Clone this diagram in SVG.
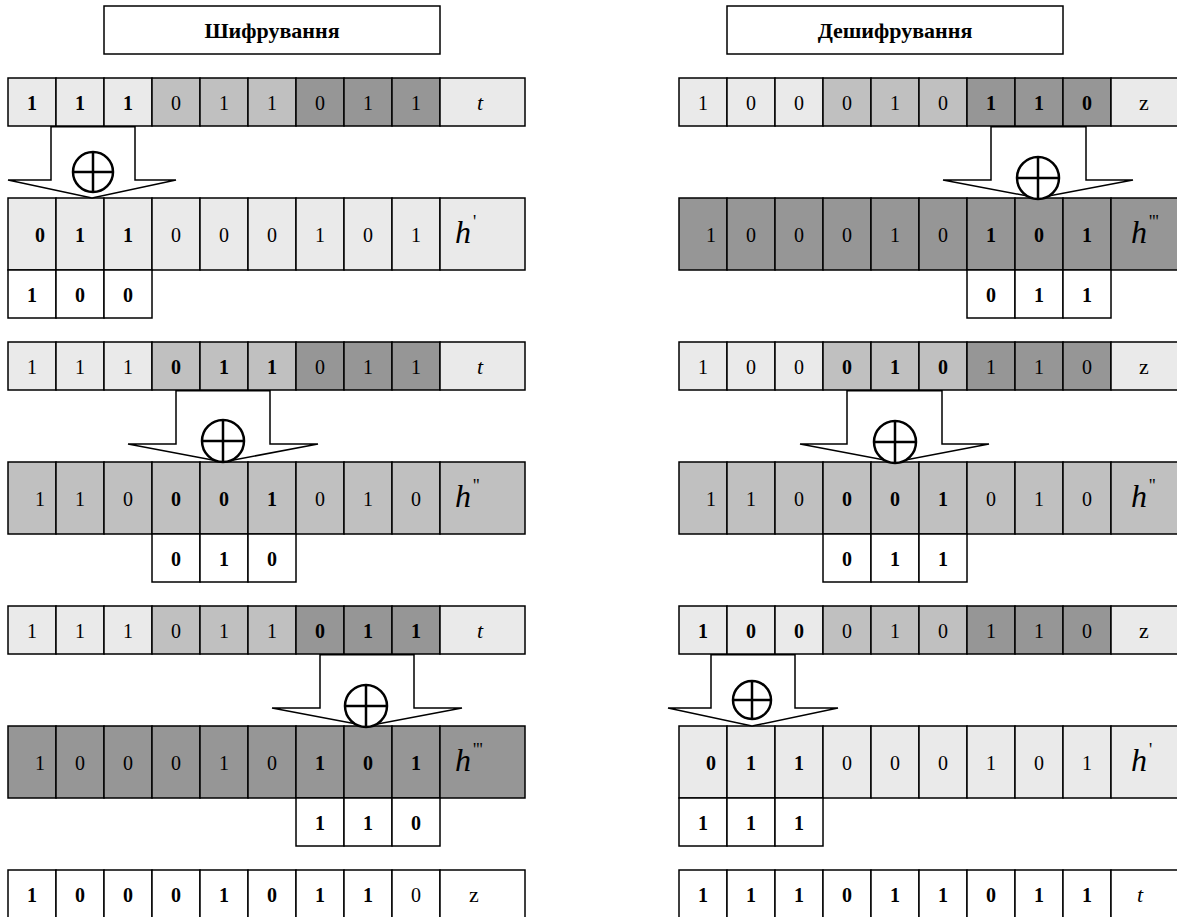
<svg xmlns="http://www.w3.org/2000/svg" width="1177" height="917" viewBox="0 0 1177 917">
<style>
rect{stroke:#000;stroke-width:1.5}
.l{fill:#eaeaea}.m{fill:#c0c0c0}.d{fill:#969696}.w{fill:#fff}
text{font-family:"Liberation Serif","Times New Roman",serif;font-size:20px;fill:#000;text-anchor:middle}
.b{font-weight:bold}
.i{font-style:italic;font-size:22px}
.z{font-size:22px}
.h{font-style:italic;font-size:32px;text-anchor:start}
.p{font-style:normal;font-size:18px}
.t{font-weight:bold;font-size:22px}
.arrow{fill:#fff;stroke:#000;stroke-width:1.5;stroke-linejoin:miter}
.xor{fill:#fff;stroke:#000;stroke-width:2.5}
.xl{stroke:#000;stroke-width:2.5}
</style>

<g id="title-enc"><rect class="w" x="104" y="6" width="336" height="48"/><text class="t" x="272" y="38">Шифрування</text></g>
<g id="title-dec"><rect class="w" x="727" y="6" width="336" height="48"/><text class="t" x="895" y="38">Дешифрування</text></g>

<!-- LEFT -->
<g id="L-A1">
<rect class="l" x="8" y="78" width="48" height="48"/><rect class="l" x="56" y="78" width="48" height="48"/><rect class="l" x="104" y="78" width="48" height="48"/>
<rect class="m" x="152" y="78" width="48" height="48"/><rect class="m" x="200" y="78" width="48" height="48"/><rect class="m" x="248" y="78" width="48" height="48"/>
<rect class="d" x="296" y="78" width="48" height="48"/><rect class="d" x="344" y="78" width="48" height="48"/><rect class="d" x="392" y="78" width="48" height="48"/>
<rect class="l" x="440" y="78" width="85" height="48"/>
<text class="b" x="32" y="110">1</text><text class="b" x="80" y="110">1</text><text class="b" x="128" y="110">1</text>
<text x="176" y="110">0</text><text x="224" y="110">1</text><text x="272" y="110">1</text>
<text x="320" y="110">0</text><text x="368" y="110">1</text><text x="416" y="110">1</text>
<text class="i" x="480" y="110">t</text>
</g>
<g id="L-B1">
<rect class="l" x="8" y="198" width="48" height="72"/><rect class="l" x="56" y="198" width="48" height="72"/><rect class="l" x="104" y="198" width="48" height="72"/>
<rect class="l" x="152" y="198" width="48" height="72"/><rect class="l" x="200" y="198" width="48" height="72"/><rect class="l" x="248" y="198" width="48" height="72"/>
<rect class="l" x="296" y="198" width="48" height="72"/><rect class="l" x="344" y="198" width="48" height="72"/><rect class="l" x="392" y="198" width="48" height="72"/>
<rect class="l" x="440" y="198" width="85" height="72"/>
<text class="b" x="40" y="242">0</text><text class="b" x="80" y="242">1</text><text class="b" x="128" y="242">1</text>
<text x="176" y="242">0</text><text x="224" y="242">0</text><text x="272" y="242">0</text>
<text x="320" y="242">1</text><text x="368" y="242">0</text><text x="416" y="242">1</text>
<text class="h" x="455" y="243">h<tspan class="p" dx="2" dy="-15">'</tspan></text>
</g>
<g id="L-S1">
<rect class="w" x="8" y="270" width="48" height="48"/><rect class="w" x="56" y="270" width="48" height="48"/><rect class="w" x="104" y="270" width="48" height="48"/>
<text class="b" x="32" y="302">1</text><text class="b" x="80" y="302">0</text><text class="b" x="128" y="302">0</text>
</g>

<g id="L-A2">
<rect class="l" x="8" y="342" width="48" height="48"/><rect class="l" x="56" y="342" width="48" height="48"/><rect class="l" x="104" y="342" width="48" height="48"/>
<rect class="m" x="152" y="342" width="48" height="48"/><rect class="m" x="200" y="342" width="48" height="48"/><rect class="m" x="248" y="342" width="48" height="48"/>
<rect class="d" x="296" y="342" width="48" height="48"/><rect class="d" x="344" y="342" width="48" height="48"/><rect class="d" x="392" y="342" width="48" height="48"/>
<rect class="l" x="440" y="342" width="85" height="48"/>
<text x="32" y="374">1</text><text x="80" y="374">1</text><text x="128" y="374">1</text>
<text class="b" x="176" y="374">0</text><text class="b" x="224" y="374">1</text><text class="b" x="272" y="374">1</text>
<text x="320" y="374">0</text><text x="368" y="374">1</text><text x="416" y="374">1</text>
<text class="i" x="480" y="374">t</text>
</g>
<g id="L-B2">
<rect class="m" x="8" y="462" width="48" height="72"/><rect class="m" x="56" y="462" width="48" height="72"/><rect class="m" x="104" y="462" width="48" height="72"/>
<rect class="m" x="152" y="462" width="48" height="72"/><rect class="m" x="200" y="462" width="48" height="72"/><rect class="m" x="248" y="462" width="48" height="72"/>
<rect class="m" x="296" y="462" width="48" height="72"/><rect class="m" x="344" y="462" width="48" height="72"/><rect class="m" x="392" y="462" width="48" height="72"/>
<rect class="m" x="440" y="462" width="85" height="72"/>
<text x="40" y="506">1</text><text x="80" y="506">1</text><text x="128" y="506">0</text>
<text class="b" x="176" y="506">0</text><text class="b" x="224" y="506">0</text><text class="b" x="272" y="506">1</text>
<text x="320" y="506">0</text><text x="368" y="506">1</text><text x="416" y="506">0</text>
<text class="h" x="455" y="507">h<tspan class="p" dx="2" dy="-15">''</tspan></text>
</g>
<g id="L-S2">
<rect class="w" x="152" y="534" width="48" height="48"/><rect class="w" x="200" y="534" width="48" height="48"/><rect class="w" x="248" y="534" width="48" height="48"/>
<text class="b" x="176" y="566">0</text><text class="b" x="224" y="566">1</text><text class="b" x="272" y="566">0</text>
</g>

<g id="L-A3">
<rect class="l" x="8" y="606" width="48" height="48"/><rect class="l" x="56" y="606" width="48" height="48"/><rect class="l" x="104" y="606" width="48" height="48"/>
<rect class="m" x="152" y="606" width="48" height="48"/><rect class="m" x="200" y="606" width="48" height="48"/><rect class="m" x="248" y="606" width="48" height="48"/>
<rect class="d" x="296" y="606" width="48" height="48"/><rect class="d" x="344" y="606" width="48" height="48"/><rect class="d" x="392" y="606" width="48" height="48"/>
<rect class="l" x="440" y="606" width="85" height="48"/>
<text x="32" y="638">1</text><text x="80" y="638">1</text><text x="128" y="638">1</text>
<text x="176" y="638">0</text><text x="224" y="638">1</text><text x="272" y="638">1</text>
<text class="b" x="320" y="638">0</text><text class="b" x="368" y="638">1</text><text class="b" x="416" y="638">1</text>
<text class="i" x="480" y="638">t</text>
</g>
<g id="L-B3">
<rect class="d" x="8" y="726" width="48" height="72"/><rect class="d" x="56" y="726" width="48" height="72"/><rect class="d" x="104" y="726" width="48" height="72"/>
<rect class="d" x="152" y="726" width="48" height="72"/><rect class="d" x="200" y="726" width="48" height="72"/><rect class="d" x="248" y="726" width="48" height="72"/>
<rect class="d" x="296" y="726" width="48" height="72"/><rect class="d" x="344" y="726" width="48" height="72"/><rect class="d" x="392" y="726" width="48" height="72"/>
<rect class="d" x="440" y="726" width="85" height="72"/>
<text x="40" y="770">1</text><text x="80" y="770">0</text><text x="128" y="770">0</text>
<text x="176" y="770">0</text><text x="224" y="770">1</text><text x="272" y="770">0</text>
<text class="b" x="320" y="770">1</text><text class="b" x="368" y="770">0</text><text class="b" x="416" y="770">1</text>
<text class="h" x="455" y="771">h<tspan class="p" dx="2" dy="-15">'''</tspan></text>
</g>
<g id="L-S3">
<rect class="w" x="296" y="798" width="48" height="48"/><rect class="w" x="344" y="798" width="48" height="48"/><rect class="w" x="392" y="798" width="48" height="48"/>
<text class="b" x="320" y="830">1</text><text class="b" x="368" y="830">1</text><text class="b" x="416" y="830">0</text>
</g>
<g id="L-F">
<rect class="w" x="8" y="870" width="48" height="52"/><rect class="w" x="56" y="870" width="48" height="52"/><rect class="w" x="104" y="870" width="48" height="52"/>
<rect class="w" x="152" y="870" width="48" height="52"/><rect class="w" x="200" y="870" width="48" height="52"/><rect class="w" x="248" y="870" width="48" height="52"/>
<rect class="w" x="296" y="870" width="48" height="52"/><rect class="w" x="344" y="870" width="48" height="52"/><rect class="w" x="392" y="870" width="48" height="52"/>
<rect class="w" x="440" y="870" width="85" height="52"/>
<text class="b" x="32" y="902">1</text><text class="b" x="80" y="902">0</text><text class="b" x="128" y="902">0</text>
<text class="b" x="176" y="902">0</text><text class="b" x="224" y="902">1</text><text class="b" x="272" y="902">0</text>
<text class="b" x="320" y="902">1</text><text class="b" x="368" y="902">1</text><text x="416" y="902">0</text>
<text class="z" x="474" y="902">z</text>
</g>

<!-- RIGHT -->
<g id="R-A1">
<rect class="l" x="679" y="78" width="48" height="48"/><rect class="l" x="727" y="78" width="48" height="48"/><rect class="l" x="775" y="78" width="48" height="48"/>
<rect class="m" x="823" y="78" width="48" height="48"/><rect class="m" x="871" y="78" width="48" height="48"/><rect class="m" x="919" y="78" width="48" height="48"/>
<rect class="d" x="967" y="78" width="48" height="48"/><rect class="d" x="1015" y="78" width="48" height="48"/><rect class="d" x="1063" y="78" width="48" height="48"/>
<rect class="l" x="1111" y="78" width="85" height="48"/>
<text x="703" y="110">1</text><text x="751" y="110">0</text><text x="799" y="110">0</text>
<text x="847" y="110">0</text><text x="895" y="110">1</text><text x="943" y="110">0</text>
<text class="b" x="991" y="110">1</text><text class="b" x="1039" y="110">1</text><text class="b" x="1087" y="110">0</text>
<text class="z" x="1144" y="110">z</text>
</g>
<g id="R-B1">
<rect class="d" x="679" y="198" width="48" height="72"/><rect class="d" x="727" y="198" width="48" height="72"/><rect class="d" x="775" y="198" width="48" height="72"/>
<rect class="d" x="823" y="198" width="48" height="72"/><rect class="d" x="871" y="198" width="48" height="72"/><rect class="d" x="919" y="198" width="48" height="72"/>
<rect class="d" x="967" y="198" width="48" height="72"/><rect class="d" x="1015" y="198" width="48" height="72"/><rect class="d" x="1063" y="198" width="48" height="72"/>
<rect class="d" x="1111" y="198" width="85" height="72"/>
<text x="711" y="242">1</text><text x="751" y="242">0</text><text x="799" y="242">0</text>
<text x="847" y="242">0</text><text x="895" y="242">1</text><text x="943" y="242">0</text>
<text class="b" x="991" y="242">1</text><text class="b" x="1039" y="242">0</text><text class="b" x="1087" y="242">1</text>
<text class="h" x="1131" y="243">h<tspan class="p" dx="2" dy="-15">'''</tspan></text>
</g>
<g id="R-S1">
<rect class="w" x="967" y="270" width="48" height="48"/><rect class="w" x="1015" y="270" width="48" height="48"/><rect class="w" x="1063" y="270" width="48" height="48"/>
<text class="b" x="991" y="302">0</text><text class="b" x="1039" y="302">1</text><text class="b" x="1087" y="302">1</text>
</g>

<g id="R-A2">
<rect class="l" x="679" y="342" width="48" height="48"/><rect class="l" x="727" y="342" width="48" height="48"/><rect class="l" x="775" y="342" width="48" height="48"/>
<rect class="m" x="823" y="342" width="48" height="48"/><rect class="m" x="871" y="342" width="48" height="48"/><rect class="m" x="919" y="342" width="48" height="48"/>
<rect class="d" x="967" y="342" width="48" height="48"/><rect class="d" x="1015" y="342" width="48" height="48"/><rect class="d" x="1063" y="342" width="48" height="48"/>
<rect class="l" x="1111" y="342" width="85" height="48"/>
<text x="703" y="374">1</text><text x="751" y="374">0</text><text x="799" y="374">0</text>
<text class="b" x="847" y="374">0</text><text class="b" x="895" y="374">1</text><text class="b" x="943" y="374">0</text>
<text x="991" y="374">1</text><text x="1039" y="374">1</text><text x="1087" y="374">0</text>
<text class="z" x="1144" y="374">z</text>
</g>
<g id="R-B2">
<rect class="m" x="679" y="462" width="48" height="72"/><rect class="m" x="727" y="462" width="48" height="72"/><rect class="m" x="775" y="462" width="48" height="72"/>
<rect class="m" x="823" y="462" width="48" height="72"/><rect class="m" x="871" y="462" width="48" height="72"/><rect class="m" x="919" y="462" width="48" height="72"/>
<rect class="m" x="967" y="462" width="48" height="72"/><rect class="m" x="1015" y="462" width="48" height="72"/><rect class="m" x="1063" y="462" width="48" height="72"/>
<rect class="m" x="1111" y="462" width="85" height="72"/>
<text x="711" y="506">1</text><text x="751" y="506">1</text><text x="799" y="506">0</text>
<text class="b" x="847" y="506">0</text><text class="b" x="895" y="506">0</text><text class="b" x="943" y="506">1</text>
<text x="991" y="506">0</text><text x="1039" y="506">1</text><text x="1087" y="506">0</text>
<text class="h" x="1131" y="507">h<tspan class="p" dx="2" dy="-15">''</tspan></text>
</g>
<g id="R-S2">
<rect class="w" x="823" y="534" width="48" height="48"/><rect class="w" x="871" y="534" width="48" height="48"/><rect class="w" x="919" y="534" width="48" height="48"/>
<text class="b" x="847" y="566">0</text><text class="b" x="895" y="566">1</text><text class="b" x="943" y="566">1</text>
</g>

<g id="R-A3">
<rect class="l" x="679" y="606" width="48" height="48"/><rect class="l" x="727" y="606" width="48" height="48"/><rect class="l" x="775" y="606" width="48" height="48"/>
<rect class="m" x="823" y="606" width="48" height="48"/><rect class="m" x="871" y="606" width="48" height="48"/><rect class="m" x="919" y="606" width="48" height="48"/>
<rect class="d" x="967" y="606" width="48" height="48"/><rect class="d" x="1015" y="606" width="48" height="48"/><rect class="d" x="1063" y="606" width="48" height="48"/>
<rect class="l" x="1111" y="606" width="85" height="48"/>
<text class="b" x="703" y="638">1</text><text class="b" x="751" y="638">0</text><text class="b" x="799" y="638">0</text>
<text x="847" y="638">0</text><text x="895" y="638">1</text><text x="943" y="638">0</text>
<text x="991" y="638">1</text><text x="1039" y="638">1</text><text x="1087" y="638">0</text>
<text class="z" x="1144" y="638">z</text>
</g>
<g id="R-B3">
<rect class="l" x="679" y="726" width="48" height="72"/><rect class="l" x="727" y="726" width="48" height="72"/><rect class="l" x="775" y="726" width="48" height="72"/>
<rect class="l" x="823" y="726" width="48" height="72"/><rect class="l" x="871" y="726" width="48" height="72"/><rect class="l" x="919" y="726" width="48" height="72"/>
<rect class="l" x="967" y="726" width="48" height="72"/><rect class="l" x="1015" y="726" width="48" height="72"/><rect class="l" x="1063" y="726" width="48" height="72"/>
<rect class="l" x="1111" y="726" width="85" height="72"/>
<text class="b" x="711" y="770">0</text><text class="b" x="751" y="770">1</text><text class="b" x="799" y="770">1</text>
<text x="847" y="770">0</text><text x="895" y="770">0</text><text x="943" y="770">0</text>
<text x="991" y="770">1</text><text x="1039" y="770">0</text><text x="1087" y="770">1</text>
<text class="h" x="1131" y="771">h<tspan class="p" dx="2" dy="-15">'</tspan></text>
</g>
<g id="R-S3">
<rect class="w" x="679" y="798" width="48" height="48"/><rect class="w" x="727" y="798" width="48" height="48"/><rect class="w" x="775" y="798" width="48" height="48"/>
<text class="b" x="703" y="830">1</text><text class="b" x="751" y="830">1</text><text class="b" x="799" y="830">1</text>
</g>
<g id="R-F">
<rect class="w" x="679" y="870" width="48" height="52"/><rect class="w" x="727" y="870" width="48" height="52"/><rect class="w" x="775" y="870" width="48" height="52"/>
<rect class="w" x="823" y="870" width="48" height="52"/><rect class="w" x="871" y="870" width="48" height="52"/><rect class="w" x="919" y="870" width="48" height="52"/>
<rect class="w" x="967" y="870" width="48" height="52"/><rect class="w" x="1015" y="870" width="48" height="52"/><rect class="w" x="1063" y="870" width="48" height="52"/>
<rect class="w" x="1111" y="870" width="85" height="52"/>
<text class="b" x="703" y="902">1</text><text class="b" x="751" y="902">1</text><text class="b" x="799" y="902">1</text>
<text class="b" x="847" y="902">0</text><text class="b" x="895" y="902">1</text><text class="b" x="943" y="902">1</text>
<text class="b" x="991" y="902">0</text><text class="b" x="1039" y="902">1</text><text class="b" x="1087" y="902">1</text>
<text class="i" x="1140" y="902">t</text>
</g>

<!-- connectors: XOR block arrows -->
<g id="connectors">
<polygon class="arrow" points="51,126.75 51,180 8,180 92,198 176,180 135,180 135,126.75"/>
<circle class="xor" cx="93" cy="172" r="20"/><path class="xl" d="M73 172H113M93 152V192"/>

<polygon class="arrow" points="176,390.75 176,444 128,444 223,462 318,444 270,444 270,390.75"/>
<circle class="xor" cx="223" cy="441" r="21"/><path class="xl" d="M202 441H244M223 420V462"/>

<polygon class="arrow" points="320,654.75 320,708 272,708 367,726 462,708 414,708 414,654.75"/>
<circle class="xor" cx="366" cy="706" r="21"/><path class="xl" d="M345 706H387M366 685V727"/>

<polygon class="arrow" points="991,126.75 991,180 943,180 1038,198 1133,180 1086,180 1086,126.75"/>
<circle class="xor" cx="1038" cy="178" r="21"/><path class="xl" d="M1017 178H1059M1038 157V199"/>

<polygon class="arrow" points="847,390.75 847,444 800,444 895,462 989,444 942,444 942,390.75"/>
<circle class="xor" cx="895" cy="442" r="21"/><path class="xl" d="M874 442H916M895 421V463"/>

<polygon class="arrow" points="711,654.75 711,708 668,708 752,726 838,708 795,708 795,654.75"/>
<circle class="xor" cx="752" cy="700" r="19"/><path class="xl" d="M733 700H771M752 681V719"/>
</g>
</svg>
